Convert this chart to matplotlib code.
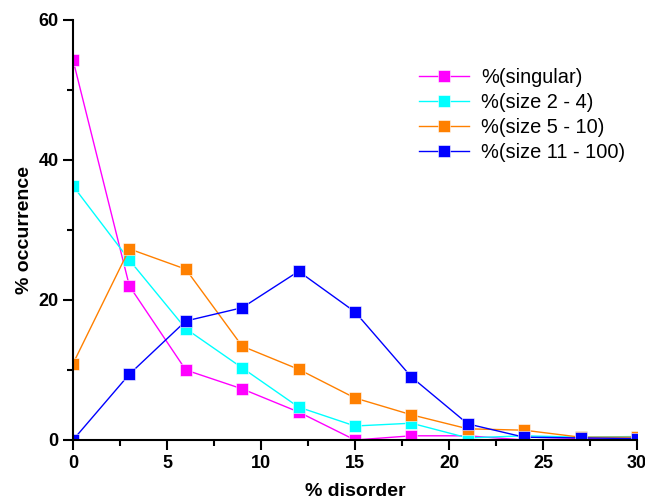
import matplotlib
matplotlib.use("Agg")
import matplotlib.pyplot as plt
from matplotlib.ticker import MultipleLocator

x = [0, 3, 6, 9, 12, 15, 18, 21, 24, 27, 30]
singular = [54.3, 22.0, 10.0, 7.3, 4.0, 0.0, 0.6, 0.6, 0.0, 0.2, 0.0]
size_2_4 = [36.3, 25.7, 15.9, 10.3, 4.7, 2.0, 2.4, 0.3, 0.6, 0.4, 0.5]
size_5_10 = [10.9, 27.3, 24.4, 13.4, 10.1, 6.0, 3.6, 1.6, 1.4, 0.4, 0.4]
size_11_100 = [0.0, 9.4, 17.0, 18.9, 24.1, 18.3, 9.0, 2.3, 0.4, 0.3, 0.2]

labels = ["%(singular)", "%(size 2 - 4)", "%(size 5 - 10)", "%(size 11 - 100)"]
colors = ["#ff00ff", "#00ffff", "#ff8000", "#0000ff"]

plt.rcParams['font.family'] = ['Liberation Sans', 'DejaVu Sans']

fig = plt.figure(figsize=(6.45, 5.0), dpi=100)
ax = fig.add_axes([73/645, 60/500, (637-73)/645, (440-20)/500])

for ys, lab, c in zip([singular, size_2_4, size_5_10, size_11_100], labels, colors):
    ax.plot(x, ys, color=c, lw=1.0, marker='s', markersize=8,
            markerfacecolor=c, markeredgecolor='#ffffffaa', markeredgewidth=0.6,
            label=lab)

ax.set_xlim(0, 30)
ax.set_ylim(0, 60)
ax.xaxis.set_major_locator(MultipleLocator(5))
ax.xaxis.set_minor_locator(MultipleLocator(2.5))
ax.yaxis.set_major_locator(MultipleLocator(20))
ax.yaxis.set_minor_locator(MultipleLocator(10))
for s in ['top', 'right']:
    ax.spines[s].set_visible(False)
for s in ['left', 'bottom']:
    ax.spines[s].set_linewidth(1.5)
ax.tick_params(which='major', direction='out', length=7, width=1.5, labelsize=13)
ax.tick_params(which='minor', direction='out', length=4, width=1.5)
for t in ax.get_xticklabels() + ax.get_yticklabels():
    t.set_fontweight('bold')

ax.set_xlabel('% disorder', fontsize=14, fontweight='bold', labelpad=8)
ax.set_ylabel('% occurrence', fontsize=14, fontweight='bold', labelpad=4)

leg = ax.legend(loc='upper left', bbox_to_anchor=(0.6, 0.905), frameon=False,
                fontsize=14.4, handlelength=2.5, handletextpad=0.6,
                labelspacing=0.3, borderaxespad=0)

fig.savefig('out.png', dpi=100)
